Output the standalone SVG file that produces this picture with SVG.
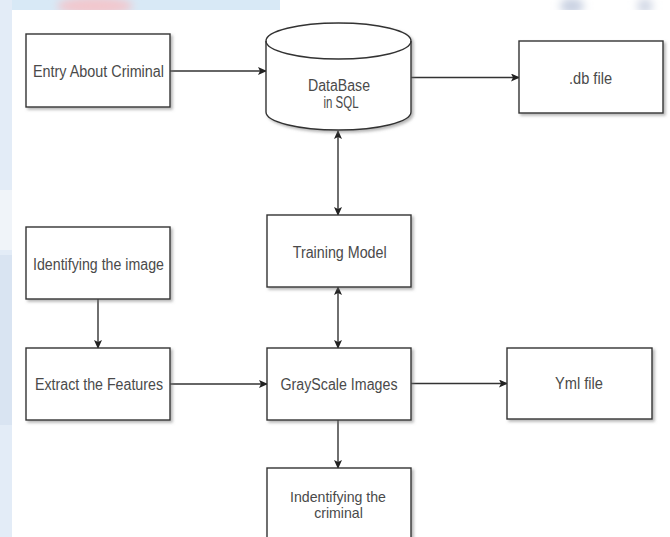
<svg xmlns="http://www.w3.org/2000/svg" width="670" height="537" viewBox="0 0 670 537">
<defs>
<style>
.box{fill:#fff;stroke:#333;stroke-width:1.4;filter:url(#sh)}
.lbl{font-family:"Liberation Sans",Arial,sans-serif;font-size:16px;fill:#4a4a4a;text-anchor:middle}
.sm{font-size:14.5px}
.con{stroke:#333;stroke-width:1.4;fill:none}
</style>
<filter id="sh" x="-10%" y="-10%" width="125%" height="130%">
<feDropShadow dx="2" dy="2" stdDeviation="1.5" flood-color="#777" flood-opacity="0.55"/>
</filter>
<filter id="blur" x="-50%" y="-50%" width="200%" height="200%"><feGaussianBlur stdDeviation="4"/></filter>
<marker id="ah" markerWidth="9" markerHeight="8" refX="8" refY="4" orient="auto" markerUnits="userSpaceOnUse">
<path d="M0,0 L9,4 L0,8 L2,4 z" fill="#222"/>
</marker>
<marker id="at" markerWidth="9" markerHeight="8" refX="1" refY="4" orient="auto" markerUnits="userSpaceOnUse">
<path d="M9,0 L0,4 L9,8 L7,4 z" fill="#222"/>
</marker>
</defs>
<g id="background">
<rect x="0" y="0" width="670" height="537" fill="#fff"/>
<rect x="0" y="0" width="280" height="10" fill="#d8e9f6"/>
<rect x="0" y="0" width="12" height="537" fill="#e3ecf7"/>
<rect x="0" y="255" width="12" height="170" fill="#d9e4f2"/>
<rect x="0" y="190" width="12" height="60" fill="#f0f4f9"/>
<g filter="url(#blur)">
<ellipse cx="95" cy="6" rx="38" ry="9" fill="#f2c7cd"/>
<ellipse cx="572" cy="6" rx="12" ry="8" fill="#c9d1e2"/>
<ellipse cx="645" cy="6" rx="8" ry="8" fill="#d3d9e6"/>
</g>
<rect x="12" y="10" width="658" height="527" fill="#fff"/>
</g>
<g id="connectors">
<line class="con" x1="170" y1="71" x2="266" y2="71" marker-end="url(#ah)"/>
<line class="con" x1="411" y1="77.5" x2="519" y2="77.5" marker-end="url(#ah)"/>
<line class="con" x1="338" y1="131" x2="338" y2="215" marker-start="url(#at)" marker-end="url(#ah)"/>
<line class="con" x1="98" y1="299" x2="98" y2="348" marker-end="url(#ah)"/>
<line class="con" x1="338" y1="287" x2="338" y2="348" marker-start="url(#at)" marker-end="url(#ah)"/>
<line class="con" x1="170" y1="384" x2="267" y2="384" marker-end="url(#ah)"/>
<line class="con" x1="411" y1="383.5" x2="507" y2="383.5" marker-end="url(#ah)"/>
<line class="con" x1="338" y1="420" x2="338" y2="468" marker-end="url(#ah)"/>
</g>
<g id="entry">
<rect class="box" x="26" y="34" width="144" height="73"/>
<text class="lbl" x="98.5" y="77" textLength="131" lengthAdjust="spacingAndGlyphs">Entry About Criminal</text>
</g>
<g id="database">
<path class="box" d="M266,41 a72.5,18 0 0 1 145,0 v71 a72.5,18 0 0 1 -145,0 z"/>
<path class="con" d="M266,41 a72.5,18 0 0 0 145,0"/>
<text class="lbl" x="339" y="90.5" textLength="62" lengthAdjust="spacingAndGlyphs">DataBase</text>
<text class="lbl" x="341" y="107.5" textLength="35" lengthAdjust="spacingAndGlyphs">in SQL</text>
</g>
<g id="dbfile">
<rect class="box" x="519" y="41" width="144" height="72"/>
<text class="lbl" x="590.5" y="83.5" textLength="43" lengthAdjust="spacingAndGlyphs">.db file</text>
</g>
<g id="identify">
<rect class="box" x="26" y="227" width="144" height="72"/>
<text class="lbl" x="98.5" y="270" textLength="131" lengthAdjust="spacingAndGlyphs">Identifying the image</text>
</g>
<g id="training">
<rect class="box" x="267" y="215" width="144" height="72"/>
<text class="lbl" x="339.7" y="257.5" textLength="94" lengthAdjust="spacingAndGlyphs">Training Model</text>
</g>
<g id="extract">
<rect class="box" x="26" y="348" width="144" height="72"/>
<text class="lbl" x="99" y="390" textLength="128" lengthAdjust="spacingAndGlyphs">Extract the Features</text>
</g>
<g id="grayscale">
<rect class="box" x="267" y="348" width="144" height="72"/>
<text class="lbl" x="339" y="390" textLength="117" lengthAdjust="spacingAndGlyphs">GrayScale Images</text>
</g>
<g id="yml">
<rect class="box" x="507" y="348" width="145" height="71"/>
<text class="lbl" x="579" y="389" textLength="48" lengthAdjust="spacingAndGlyphs">Yml file</text>
</g>
<g id="criminal">
<rect class="box" x="267" y="468" width="144" height="74"/>
<text class="lbl sm" x="338" y="501.5" textLength="96" lengthAdjust="spacingAndGlyphs">Indentifying the</text>
<text class="lbl sm" x="338.5" y="517.5" textLength="48.7" lengthAdjust="spacingAndGlyphs">criminal</text>
</g>
</svg>
